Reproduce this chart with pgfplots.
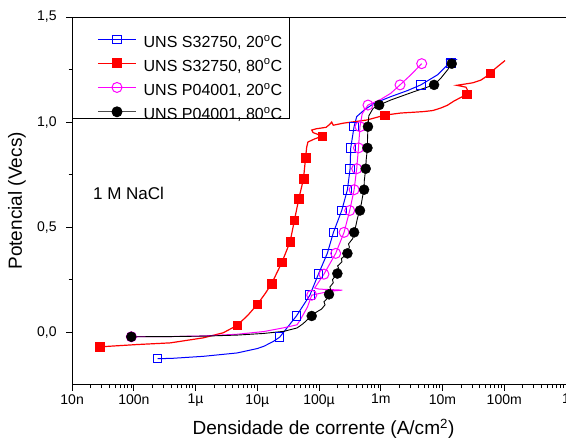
\documentclass[border=0pt]{standalone}
\usepackage{fontspec}
\setmainfont{Liberation Sans}
\usepackage{pgfplots}
\pgfplotsset{compat=1.18}

\definecolor{orblue}{RGB}{0,0,255}
\definecolor{orred}{RGB}{255,0,0}
\definecolor{ormag}{RGB}{255,0,255}

\begin{document}
\begin{tikzpicture}
\begin{axis}[
  name=ax,
  scale only axis,
  width=493pt, height=367pt,
  xmode=log,
  xmin=1e-8, xmax=1,
  ymin=-0.25, ymax=1.5,
  xtick={1e-8,1e-7,1e-6,1e-5,1e-4,1e-3,1e-2,1e-1,1},
  xticklabels={10n,100n,1µ,10µ,100µ,1m,10m,100m,1},
  minor xtick={2e-8,3e-8,4e-8,5e-8,6e-8,7e-8,8e-8,9e-8,
    2e-7,3e-7,4e-7,5e-7,6e-7,7e-7,8e-7,9e-7,
    2e-6,3e-6,4e-6,5e-6,6e-6,7e-6,8e-6,9e-6,
    2e-5,3e-5,4e-5,5e-5,6e-5,7e-5,8e-5,9e-5,
    2e-4,3e-4,4e-4,5e-4,6e-4,7e-4,8e-4,9e-4,
    2e-3,3e-3,4e-3,5e-3,6e-3,7e-3,8e-3,9e-3,
    2e-2,3e-2,4e-2,5e-2,6e-2,7e-2,8e-2,9e-2,
    2e-1,3e-1,4e-1,5e-1,6e-1,7e-1,8e-1,9e-1},
  ytick={0,0.5,1,1.5},
  minor y tick num=1,
  tick align=outside,
  xtick pos=bottom, ytick pos=left,
  major tick length=6pt, minor tick length=3.5pt,
  every tick/.style={black, line width=0.8pt},
  axis line style={line width=0.9pt},
  tick label style={font=\fontsize{14}{16}\selectfont},
  yticklabel style={xshift=-6pt, /pgf/number format/.cd, fixed, fixed zerofill, precision=1, use comma, assume math mode=true},
  xlabel={Densidade de corrente (A/cm\textsuperscript{2})},
  ylabel={Potencial (Vecs)},
  label style={font=\fontsize{19}{22}\selectfont},
  x label style={at={(axis description cs:0.509,-0.12)}, anchor=center},
  y label style={at={(axis description cs:-0.1116,0.5)}, anchor=center, rotate=0},
  legend style={at={(axis description cs:0,1)}, anchor=north west, draw=none, fill=none,
    inner xsep=0pt, inner ysep=18pt, column sep=7pt, row sep=7.8pt,
    font=\fontsize{16}{19}\selectfont,
    nodes={inner sep=0pt, text height=11.5pt, text depth=3.5pt}},
  legend cell align=left,
  legend image code/.code={
    \path (0pt,0pt);
    \draw[mark repeat=2, mark phase=2, #1] plot coordinates {(25pt,4pt) (44pt,4pt) (63pt,4pt)};
  },
]

% UNS S32750, 20 C
\addplot[orblue, line width=1pt, forget plot] coordinates {
(2.43e-7,-0.126) (4e-7,-0.125) (1.34e-6,-0.115) (4.7e-6,-0.099) (1.0e-5,-0.078)
(1.28e-5,-0.067) (1.8e-5,-0.045) (2.3e-5,-0.024) (4.3e-5,0.077) (7.1e-5,0.176)
(9.75e-5,0.276) (1.36e-4,0.375) (1.71e-4,0.475) (2.33e-4,0.579) (2.88e-4,0.678)
(3.18e-4,0.777) (3.26e-4,0.877) (3.69e-4,0.978) (4.07e-4,1.026) (5.36e-4,1.057)
(7.8e-4,1.089) (1.45e-3,1.121) (2.71e-3,1.15) (4.45e-3,1.177) (8.3e-3,1.225)
(1.21e-2,1.273) (1.37e-2,1.281) (1.65e-2,1.297) (1.13e-2,1.297)
};
\addplot[orblue, only marks, mark=square, mark size=4.3pt, mark options={fill=white, line width=1pt}, forget plot] coordinates {
(2.43e-7,-0.126) (2.3e-5,-0.024) (4.3e-5,0.077) (7.1e-5,0.176) (9.75e-5,0.276)
(1.36e-4,0.375) (1.71e-4,0.475) (2.33e-4,0.579) (2.88e-4,0.678) (3.18e-4,0.777)
(3.26e-4,0.877) (3.69e-4,0.978) (4.45e-3,1.177) (1.37e-2,1.281)
};

% UNS S32750, 80 C
\addplot[orred, line width=1.2pt, forget plot] coordinates {
(2.8e-8,-0.07) (1.12e-7,-0.059) (3.9e-7,-0.051) (1.34e-6,-0.027) (2.8e-6,-0.003)
(4.7e-6,0.032) (7e-6,0.08) (1.0e-5,0.132) (1.35e-5,0.185) (1.7e-5,0.23)
(2.5e-5,0.332) (3.4e-5,0.431) (4.0e-5,0.534) (4.7e-5,0.635) (5.6e-5,0.73)
(6.05e-5,0.831) (6.3e-5,0.88) (6.6e-5,0.905) (8.5e-5,0.92) (1.13e-4,0.933)
(8e-5,0.95) (7.6e-5,0.962) (9e-5,0.968) (1.3e-4,0.975) (1.5e-4,0.99)
(1.6e-4,1.0) (1.7e-4,0.985) (2.5e-4,0.995) (4e-4,1.003) (6e-4,1.01)
(8e-4,1.02) (1.16e-3,1.033) (2.1e-3,1.043) (3.5e-3,1.047) (5e-3,1.05)
(7e-3,1.055) (9.4e-3,1.067) (1.2e-2,1.08) (1.53e-2,1.10) (2.0e-2,1.118)
(2.46e-2,1.132) (2.56e-2,1.15) (2.4e-2,1.166) (1.7e-2,1.175) (2.2e-2,1.18)
(3.1e-2,1.187) (4.2e-2,1.2) (5e-2,1.215) (5.96e-2,1.233) (7.36e-2,1.258)
(8.5e-2,1.273) (0.103,1.293)
};
\addplot[orred, only marks, mark=square*, mark size=4.2pt, forget plot] coordinates {
(2.8e-8,-0.07) (4.7e-6,0.032) (1.0e-5,0.132) (1.7e-5,0.23) (2.5e-5,0.332)
(3.4e-5,0.431) (4.0e-5,0.534) (4.7e-5,0.635) (5.6e-5,0.73) (6.05e-5,0.831)
(1.13e-4,0.933) (1.16e-3,1.033) (2.46e-2,1.132) (5.96e-2,1.233)
};

% UNS P04001, 20 C
\addplot[ormag, line width=1pt, forget plot] coordinates {
(9.5e-8,-0.022) (3.9e-7,-0.021) (1.34e-6,-0.018) (4.7e-6,-0.01) (1.28e-5,0.003)
(2.7e-5,0.021) (4.4e-5,0.035) (5e-5,0.06) (5.7e-5,0.09) (6.5e-5,0.12)
(7.6e-5,0.176) (1.5e-4,0.195) (2.39e-4,0.2) (1.0e-4,0.205) (8.5e-5,0.21)
(1.2e-4,0.276) (1.86e-4,0.375) (2.54e-4,0.475) (3.14e-4,0.579) (3.7e-4,0.678)
(4.07e-4,0.778) (4.35e-4,0.877) (4.6e-4,0.978) (5e-4,1.04) (6.2e-4,1.081)
(1.0e-3,1.108) (1.45e-3,1.137) (2.05e-3,1.177) (3.07e-3,1.225) (4.6e-3,1.278)
};
\addplot[ormag, only marks, mark=o, mark size=5pt, mark options={fill=white, line width=1pt}, forget plot] coordinates {
(9.1e-8,-0.022) (7.6e-5,0.176) (1.2e-4,0.276) (1.86e-4,0.375) (2.54e-4,0.475)
(3.14e-4,0.579) (3.7e-4,0.678) (4.07e-4,0.778) (4.35e-4,0.877) (4.6e-4,0.978)
(6.2e-4,1.081) (2.05e-3,1.177) (4.6e-3,1.278)
};

% UNS P04001, 80 C
\addplot[black, line width=0.9pt, forget plot] coordinates {
(9.1e-8,-0.022) (3.9e-7,-0.021) (1.34e-6,-0.019) (4.7e-6,-0.014) (1.28e-5,-0.006)
(2.7e-5,0.004) (4.4e-5,0.02) (5.5e-5,0.04) (6.5e-5,0.06) (7.6e-5,0.077)
(9e-5,0.095) (1.1e-4,0.11) (1.25e-4,0.13) (1.2e-4,0.145) (1.35e-4,0.16)
(1.45e-4,0.18) (1.55e-4,0.2) (1.5e-4,0.215) (1.7e-4,0.235) (1.65e-4,0.25)
(1.98e-4,0.279) (2.1e-4,0.3) (2.0e-4,0.315) (2.35e-4,0.335) (2.3e-4,0.35)
(2.88e-4,0.375) (3.1e-4,0.405) (3.0e-4,0.42) (3.5e-4,0.445) (3.7e-4,0.475)
(3.9e-4,0.5) (4.1e-4,0.53) (4.3e-4,0.555) (4.6e-4,0.579) (4.9e-4,0.62)
(5.1e-4,0.65) (5.36e-4,0.678) (5.4e-4,0.72) (5.7e-4,0.778) (5.8e-4,0.82)
(6.08e-4,0.877) (6.1e-4,0.92) (6.2e-4,0.978) (6.4e-4,1.03) (7.5e-4,1.065)
(9.4e-4,1.081) (1.45e-3,1.105) (3.47e-3,1.145) (7.3e-3,1.177) (9.4e-3,1.209)
(1.21e-2,1.249) (1.41e-2,1.278)
};
\addplot[black, only marks, mark=*, mark size=5pt, forget plot] coordinates {
(9.1e-8,-0.022) (7.6e-5,0.077) (1.45e-4,0.18) (1.98e-4,0.279) (2.88e-4,0.375)
(3.7e-4,0.475) (4.6e-4,0.579) (5.36e-4,0.678) (5.7e-4,0.778) (6.08e-4,0.877)
(6.2e-4,0.978) (9.4e-4,1.081) (7.3e-3,1.177) (1.41e-2,1.278)
};

\addlegendimage{orblue, line width=1pt, mark=square, mark size=4.3pt, mark options={fill=white}}
\addlegendentry{UNS S32750, 20\textsuperscript{o}C}
\addlegendimage{orred, line width=1.2pt, mark=square*, mark size=4.2pt}
\addlegendentry{UNS S32750, 80\textsuperscript{o}C}
\addlegendimage{ormag, line width=1pt, mark=o, mark size=5pt, mark options={fill=white}}
\addlegendentry{UNS P04001, 20\textsuperscript{o}C}
\addlegendimage{black!70, line width=0.9pt, mark=*, mark size=5pt, mark options={black}}
\addlegendentry{UNS P04001, 80\textsuperscript{o}C}

\draw[line width=0.8pt] (axis description cs:0,1) rectangle (axis description cs:0.4402,0.7248);
\node[anchor=west, inner sep=0pt, font=\fontsize{17}{20}\selectfont] at (axis description cs:0.042,0.519) {1 M NaCl};
\end{axis}
\pgfresetboundingbox
\path ([xshift=-72pt,yshift=-57pt]ax.south west) rectangle ([yshift=17pt]ax.north east);
\end{tikzpicture}
\end{document}
